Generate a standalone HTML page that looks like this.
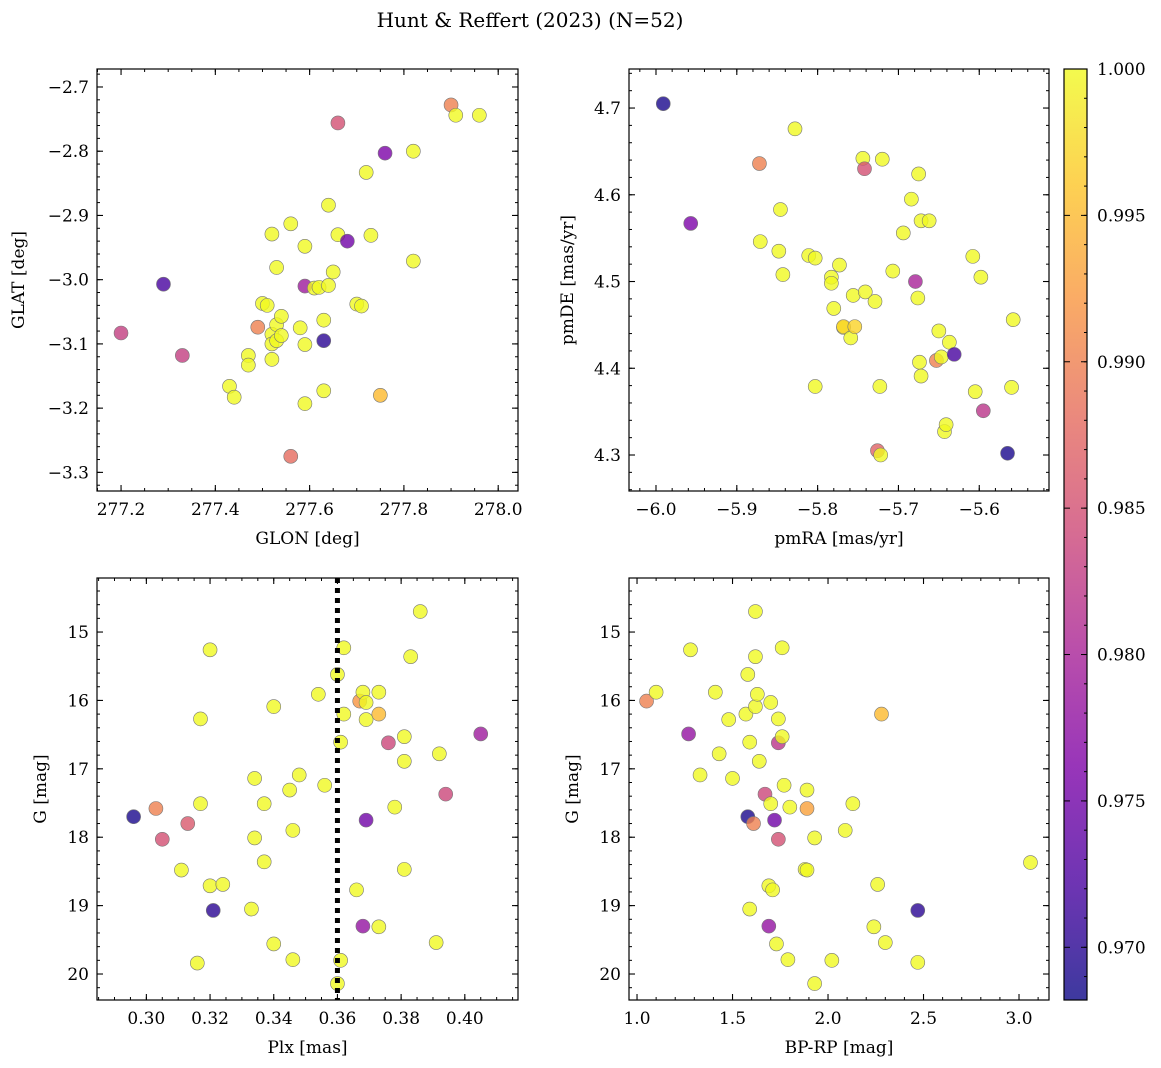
<!DOCTYPE html>
<html><head><meta charset="utf-8">
<style>
html,body{margin:0;padding:0;background:#fff;}
svg{display:block;font-family:"DejaVu Serif","Liberation Serif",serif;}
</style></head>
<body>
<svg id="fig" width="1161" height="1068" viewBox="0 0 1161 1068" xmlns="http://www.w3.org/2000/svg">
<defs>
<linearGradient id="plasma" x1="0" y1="1" x2="0" y2="0">
<stop offset="0" stop-color="#0d0887"/><stop offset="0.125" stop-color="#4a02a0"/><stop offset="0.25" stop-color="#7e03a8"/><stop offset="0.375" stop-color="#a82296"/><stop offset="0.5" stop-color="#cc4778"/><stop offset="0.625" stop-color="#e56b5d"/><stop offset="0.75" stop-color="#f89540"/><stop offset="0.875" stop-color="#fdc527"/><stop offset="1" stop-color="#f0f921"/>
</linearGradient>
</defs>
<text x="530" y="27" font-size="20" text-anchor="middle">Hunt &amp; Reffert (2023) (N=52)</text>
</svg>
<script>
// ---- data ----
const tlGlon=[277.20,277.29,277.33,277.43,277.44,277.47,277.47,277.49,277.50,277.51,277.52,277.52,277.52,277.53,277.53,277.53,277.52,277.54,277.54,277.56,277.56,277.58,277.59,277.59,277.59,277.59,277.61,277.62,277.63,277.63,277.63,277.64,277.64,277.65,277.66,277.66,277.68,277.70,277.71,277.72,277.73,277.75,277.76,277.82,277.82,277.90,277.91,277.96];
const tlGlat=[-3.083,-3.007,-3.118,-3.166,-3.183,-3.118,-3.133,-3.074,-3.037,-3.040,-2.929,-3.085,-3.100,-2.981,-3.070,-3.095,-3.124,-3.057,-3.087,-2.913,-3.275,-3.075,-2.948,-3.101,-3.193,-3.010,-3.013,-3.012,-3.063,-3.173,-3.095,-2.884,-3.009,-2.988,-2.756,-2.930,-2.940,-3.038,-3.041,-2.833,-2.931,-3.180,-2.803,-2.800,-2.971,-2.728,-2.744,-2.744];
const tlProb=[0.983,0.972,0.983,1,1,1,1,0.99,1,1,1,1,1,1,1,1,1,1,1,1,0.988,1,1,1,1,0.979,1,1,1,1,0.970,1,1,1,0.985,1,0.975,1,1,1,1,0.995,0.976,1,1,0.99,1,1];

const trPmra=[-5.991,-5.957,-5.872,-5.871,-5.848,-5.846,-5.843,-5.828,-5.811,-5.803,-5.803,-5.783,-5.783,-5.780,-5.773,-5.768,-5.768,-5.759,-5.756,-5.754,-5.744,-5.742,-5.741,-5.729,-5.726,-5.723,-5.722,-5.720,-5.707,-5.694,-5.684,-5.679,-5.676,-5.675,-5.674,-5.672,-5.672,-5.662,-5.653,-5.650,-5.647,-5.643,-5.641,-5.637,-5.631,-5.608,-5.605,-5.598,-5.595,-5.565,-5.560,-5.558];
const trPmde=[4.705,4.567,4.636,4.546,4.535,4.583,4.508,4.676,4.530,4.527,4.379,4.505,4.498,4.469,4.519,4.447,4.448,4.435,4.484,4.448,4.642,4.630,4.488,4.477,4.305,4.379,4.300,4.641,4.512,4.556,4.595,4.500,4.481,4.624,4.407,4.570,4.391,4.570,4.409,4.443,4.413,4.327,4.335,4.430,4.416,4.529,4.373,4.505,4.351,4.302,4.378,4.456];
const trProb=[0.969,0.976,0.99,1,1,1,1,1,1,1,1,1,1,1,1,1,0.997,1,1,0.997,1,0.985,1,1,0.987,1,1,1,1,1,1,0.98,1,1,1,1,1,1,0.99,1,1,1,1,1,0.972,1,1,1,0.982,0.969,1,1];

const blPlx=[0.296,0.303,0.305,0.311,0.313,0.316,0.317,0.317,0.320,0.320,0.321,0.324,0.333,0.334,0.334,0.337,0.337,0.340,0.340,0.345,0.346,0.346,0.348,0.354,0.356,0.360,0.360,0.361,0.361,0.362,0.362,0.366,0.367,0.368,0.368,0.369,0.369,0.369,0.373,0.373,0.373,0.376,0.378,0.381,0.381,0.381,0.383,0.386,0.391,0.392,0.394,0.405];
const blG=[17.70,17.58,18.03,18.48,17.80,19.84,17.51,16.27,15.26,18.71,19.07,18.69,19.05,17.14,18.01,17.51,18.36,16.09,19.56,17.31,19.79,17.90,17.09,15.91,17.24,15.62,20.14,16.61,19.80,15.23,16.20,18.77,16.01,15.88,19.30,16.28,16.03,17.75,15.88,16.20,19.31,16.62,17.56,16.53,16.89,18.47,15.36,14.70,19.54,16.78,17.37,16.49];
const blProb=[0.969,0.99,0.985,1,0.986,1,1,1,1,1,0.970,1,1,1,1,1,1,1,1,1,1,1,1,1,1,1,1,1,1,1,1,1,0.992,1,0.978,1,1,0.975,1,0.995,1,0.984,1,1,1,1,1,1,1,1,0.984,0.979];
const plxRef=[0.36];

const brBprp=[1.05,1.10,1.27,1.28,1.33,1.41,1.43,1.48,1.50,1.57,1.58,1.58,1.59,1.59,1.61,1.62,1.62,1.62,1.63,1.64,1.67,1.69,1.69,1.70,1.70,1.71,1.72,1.73,1.74,1.74,1.74,1.76,1.76,1.77,1.79,1.80,1.88,1.89,1.89,1.89,1.93,1.93,2.02,2.09,2.13,2.24,2.26,2.28,2.30,2.47,2.47,3.06];
const brG=[16.01,15.88,16.49,15.26,17.09,15.88,16.78,16.28,17.14,16.20,15.62,17.70,16.61,19.05,17.80,15.36,14.70,16.09,15.91,16.89,17.37,18.71,19.30,16.03,17.51,18.77,17.75,19.56,16.62,18.03,16.27,15.23,16.53,17.24,19.79,17.56,18.47,17.31,17.58,18.48,18.01,20.14,19.80,17.90,17.51,19.31,18.69,16.20,19.54,19.07,19.83,18.37];
const brProb=[0.99,1,0.978,1,1,1,1,1,1,1,1,0.969,1,1,0.99,1,1,1,1,1,0.984,1,0.978,1,1,1,0.975,1,0.982,0.985,1,1,1,1,1,1,1,1,0.993,1,1,1,1,1,1,1,1,0.995,1,0.970,1,1];

const cbTicks=[0.970,0.975,0.980,0.985,0.990,0.995,1.000];

// ---- helpers ----
const NS="http://www.w3.org/2000/svg";
const svg=document.getElementById('fig');
function mk(tag,attrs,parent){const e=document.createElementNS(NS,tag);for(const k in attrs)e.setAttribute(k,attrs[k]);(parent||svg).appendChild(e);return e;}
const PMIN=0.9682,PMAX=1.0;
const stops=[[13,8,135],[74,2,160],[126,3,168],[168,34,150],[204,71,120],[229,107,93],[248,149,64],[253,197,39],[240,249,33]];
function plasma(p){let t=(p-PMIN)/(PMAX-PMIN);t=Math.max(0,Math.min(1,t));const f=t*8;const i=Math.min(7,Math.floor(f));const u=f-i;const a=stops[i],b=stops[i+1];return 'rgb('+a.map((v,k)=>Math.round(v+(b[k]-v)*u)).join(',')+')';}

function panel(cfg){
  const g=mk('g',{});
  
  
  const {x0,y0,x1,y1,xmin,xmax,ymin,ymax,yinv}=cfg;
  const sx=v=>x0+(v-xmin)/(xmax-xmin)*(x1-x0);
  const sy=v=>yinv? y0+(v-ymin)/(ymax-ymin)*(y1-y0) : y1-(v-ymin)/(ymax-ymin)*(y1-y0);
  const pts=mk('g',{},g);
  
  
  for(let i=0;i<cfg.xs.length;i++){
    const c=mk('circle',{cx:sx(cfg.xs[i]),cy:sy(cfg.ys[i]),r:7,fill:plasma(cfg.ps[i]),'fill-opacity':0.8,stroke:'#777','stroke-width':0.6},pts);
    
    
  }
  if(cfg.vline){for(const v of cfg.vline){const l=mk('line',{x1:sx(v),x2:sx(v),y1:y0,y2:y1,stroke:'#000','stroke-width':5,'stroke-dasharray':'5,5'},g);
    
    }}
  const fr=mk('rect',{x:x0,y:y0,width:x1-x0,height:y1-y0,fill:'none',stroke:'#000','stroke-width':1.2},g);
  
  
  const eps=1e-9;
  function ticks(min,max,step){const a=[];let s=Math.ceil(Math.min(min,max)/step-eps);for(let v=s*step;v<=Math.max(min,max)+eps;v=(++s)*step)a.push(+v.toFixed(6));return a;}
  for(const v of ticks(xmin,xmax,cfg.xminor)){const X=sx(v);mk('line',{x1:X,x2:X,y1:y1,y2:y1-3,stroke:'#000'},g);mk('line',{x1:X,x2:X,y1:y0,y2:y0+3,stroke:'#000'},g);}
  for(const v of ticks(ymin,ymax,cfg.yminor)){const Y=sy(v);mk('line',{x1:x0,x2:x0+3,y1:Y,y2:Y,stroke:'#000'},g);mk('line',{x1:x1,x2:x1-3,y1:Y,y2:Y,stroke:'#000'},g);}
  for(const v of ticks(xmin,xmax,cfg.xmajor)){const X=sx(v);mk('line',{x1:X,x2:X,y1:y1,y2:y1-6,stroke:'#000','stroke-width':1.1},g);mk('line',{x1:X,x2:X,y1:y0,y2:y0+6,stroke:'#000','stroke-width':1.1},g);
    const t=mk('text',{x:X,y:y1+24,'font-size':17,'text-anchor':'middle'},g);t.textContent=cfg.xfmt(v).replace('-','\u2212');
    
    }
  for(const v of ticks(ymin,ymax,cfg.ymajor)){const Y=sy(v);mk('line',{x1:x0,x2:x0+6,y1:Y,y2:Y,stroke:'#000','stroke-width':1.1},g);mk('line',{x1:x1,x2:x1-6,y1:Y,y2:Y,stroke:'#000','stroke-width':1.1},g);
    const t=mk('text',{x:x0-8,y:Y+6,'font-size':17,'text-anchor':'end'},g);t.textContent=cfg.yfmt(v).replace('-','\u2212');
    
    }
  const xl=mk('text',{x:(x0+x1)/2,y:y1+53,'font-size':17,'text-anchor':'middle'},g);xl.textContent=cfg.xlabel;
  
  
  const yl=mk('text',{x:cfg.ylx,y:(y0+y1)/2,'font-size':17,'text-anchor':'middle',transform:'rotate(-90 '+cfg.ylx+' '+(y0+y1)/2+')'},g);yl.textContent=cfg.ylabel;
  
  
}
const f1=v=>v.toFixed(1),f0=v=>v.toFixed(0),f2=v=>v.toFixed(2);
panel({name:'glon-glat-panel',x0:97,y0:69,x1:518,y1:491,xmin:277.149,xmax:278.042,ymin:-3.329,ymax:-2.672,xmajor:0.2,xminor:0.05,ymajor:0.1,yminor:0.02,xs:tlGlon,ys:tlGlat,ps:tlProb,xfmt:f1,yfmt:f1,xlabel:'GLON [deg]',ylabel:'GLAT [deg]',ylx:24});
panel({name:'pm-panel',x0:629,y0:69,x1:1049,y1:491,xmin:-6.0334,xmax:-5.5137,ymin:4.2585,ymax:4.745,xmajor:0.1,xminor:0.02,ymajor:0.1,yminor:0.02,xs:trPmra,ys:trPmde,ps:trProb,xfmt:f1,yfmt:f1,xlabel:'pmRA [mas/yr]',ylabel:'pmDE [mas/yr]',ylx:573});
panel({name:'plx-g-panel',x0:97,y0:578,x1:518,y1:1000,xmin:0.2845,xmax:0.4167,ymin:14.21,ymax:20.38,yinv:true,xmajor:0.02,xminor:0.005,ymajor:1,yminor:0.2,xs:blPlx,ys:blG,ps:blProb,vline:plxRef,xfmt:f2,yfmt:f0,xlabel:'Plx [mas]',ylabel:'G [mag]',ylx:46});
panel({name:'cmd-panel',x0:629,y0:578,x1:1049,y1:1000,xmin:0.958,xmax:3.157,ymin:14.21,ymax:20.38,yinv:true,xmajor:0.5,xminor:0.1,ymajor:1,yminor:0.2,xs:brBprp,ys:brG,ps:brProb,xfmt:f1,yfmt:f0,xlabel:'BP-RP [mag]',ylabel:'G [mag]',ylx:578});

const cb=mk('g',{});


const cy0=69,cy1=1000,cx0=1064,cx1=1087;
mk('rect',{x:cx0,y:cy0,width:cx1-cx0,height:cy1-cy0,fill:'url(#plasma)','fill-opacity':0.8},cb);
mk('rect',{x:cx0,y:cy0,width:cx1-cx0,height:cy1-cy0,fill:'none',stroke:'#000','stroke-width':1.2},cb);
const cby=v=>cy1-(v-PMIN)/(PMAX-PMIN)*(cy1-cy0);
for(const v of cbTicks){const Y=cby(v);mk('line',{x1:cx1,x2:cx1-6,y1:Y,y2:Y,stroke:'#000'},cb);mk('line',{x1:cx0,x2:cx0+6,y1:Y,y2:Y,stroke:'#000'},cb);
  const t=mk('text',{x:1097,y:Y+6,'font-size':17},cb);t.textContent=v.toFixed(3);
  
  }
for(let v=0.969;v<1.0005;v+=0.001){const Y=cby(v);mk('line',{x1:cx1,x2:cx1-3,y1:Y,y2:Y,stroke:'#000'},cb);}
</script>
</body></html>
